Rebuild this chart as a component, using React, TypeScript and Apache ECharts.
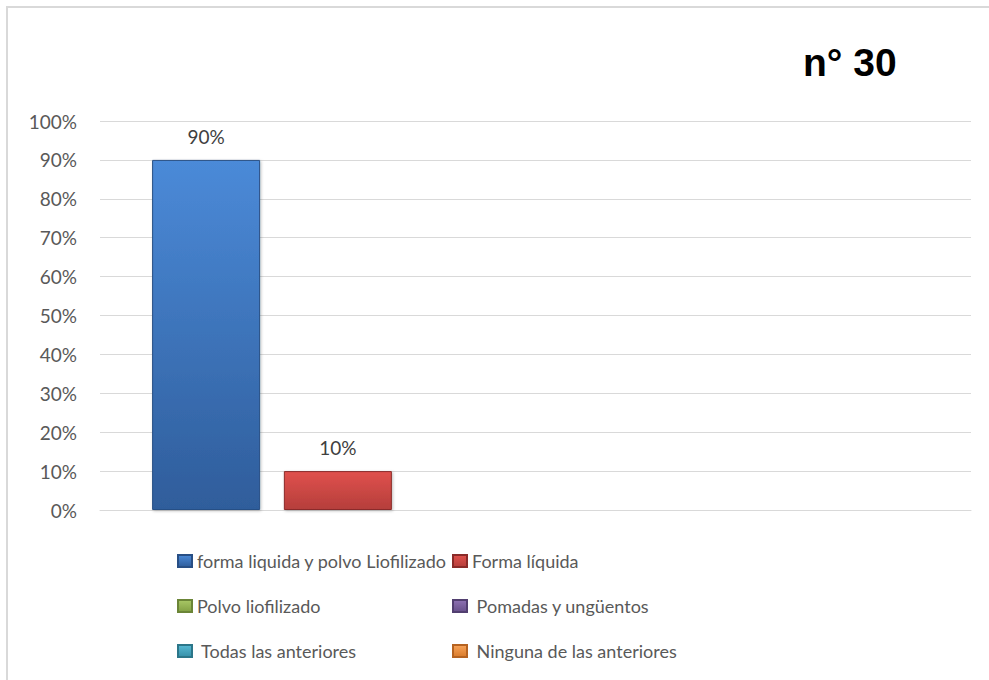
import React, { useEffect, useRef } from "react";
import * as echarts from "echarts";

const categories = [""];
const seriesNames = [
  "forma liquida y polvo Liofilizado",
  "Forma líquida",
  "Polvo liofilizado",
  " Pomadas y ungüentos",
  " Todas las anteriores",
  " Ninguna de las anteriores",
];
const seriesValues: (number | null)[] = [90, 10, null, null, null, null];
const yTicks = [0, 10, 20, 30, 40, 50, 60, 70, 80, 90, 100];
const titleText = "n° 30";

const palette = [
  ["#4b8ad8", "#2f5d9b", "#284f85"],
  ["#e0514d", "#b53e3b", "#8a2b29"],
  ["#a9c866", "#82a043", "#6b8537"],
  ["#8f72b3", "#67508a", "#523f70"],
  ["#58bad4", "#3690a8", "#2c7689"],
  ["#f9a45a", "#d97b2b", "#b66321"],
];

export default function App() {
  const ref = useRef<HTMLDivElement>(null);
  useEffect(() => {
    if (!ref.current) return;
    const chart = echarts.init(ref.current, null, { renderer: "svg" });
    const font = "Lato";
    const series = seriesNames.map((name, i) => ({
      name,
      type: "bar",
      barWidth: 108,
      barGap: "22%",
      data: [seriesValues[i] === null ? "-" : seriesValues[i]],
      itemStyle: {
        color: new echarts.graphic.LinearGradient(0, 0, 0, 1, [
          { offset: 0, color: palette[i][0] },
          { offset: 1, color: palette[i][1] },
        ]),
        borderColor: palette[i][2],
        borderWidth: 1,
        shadowColor: "rgba(0,0,0,0.25)",
        shadowBlur: 3,
        shadowOffsetX: 1,
        shadowOffsetY: 1,
      },
      label: {
        show: true,
        position: "top",
        distance: 14,
        formatter: "{c}%",
        fontFamily: font,
        fontSize: 19,
        color: "#404040",
      },
    }));
    const legendText = { fontFamily: font, fontSize: 18, color: "#595959", lineHeight: 20 };
    chart.setOption({
      animation: false,
      backgroundColor: "#ffffff",
      title: {
        text: titleText,
        left: 803,
        top: 43,
        padding: 0,
        textStyle: {
          fontFamily: "Liberation Sans",
          fontWeight: "bold",
          fontSize: 39,
          color: "#000000",
        },
      },
      graphic: [
        {
          type: "rect",
          shape: { x: 7, y: 7, width: 1000, height: 700 },
          style: { fill: "none", stroke: "#d9d9d9", lineWidth: 2 },
          silent: true,
        },
      ],
      grid: { left: 100, right: 18, top: 121, bottom: 170 },
      legend: [
        {
          orient: "vertical",
          left: 172,
          top: 546,
          icon: "rect",
          itemWidth: 14,
          itemHeight: 12,
          itemGap: 25,
          data: [seriesNames[0], seriesNames[2], seriesNames[4]],
          textStyle: legendText,
        },
        {
          orient: "vertical",
          left: 447,
          top: 546,
          icon: "rect",
          itemWidth: 14,
          itemHeight: 12,
          itemGap: 25,
          data: [seriesNames[1], seriesNames[3], seriesNames[5]],
          textStyle: legendText,
        },
      ],
      xAxis: {
        type: "category",
        data: categories,
        axisLine: { show: true, lineStyle: { color: "#d9d9d9", width: 1 } },
        axisTick: { show: false },
        axisLabel: { show: false },
      },
      yAxis: {
        type: "value",
        min: yTicks[0],
        max: yTicks[yTicks.length - 1],
        interval: 10,
        axisLine: { show: false },
        axisTick: { show: false },
        axisLabel: {
          formatter: "{value}%",
          margin: 23,
          fontFamily: font,
          fontSize: 19,
          color: "#595959",
        },
        splitLine: { lineStyle: { color: "#d9d9d9", width: 1 } },
      },
      series,
    });
    return () => chart.dispose();
  }, []);
  return (
    <div
      ref={ref}
      style={{ position: "fixed", left: 0, top: 0, width: 989, height: 680 }}
    />
  );
}
